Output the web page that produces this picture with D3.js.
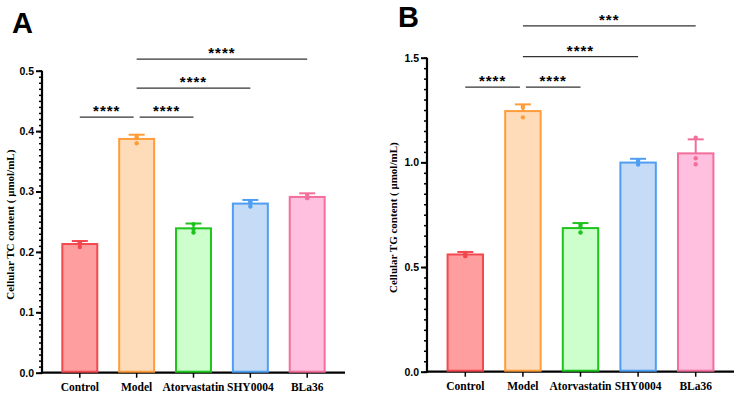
<!DOCTYPE html>
<html>
<head>
<meta charset="utf-8">
<script src="https://cdn.jsdelivr.net/npm/d3@7"></script>
<style>
body { margin: 0; background: #fff; }
svg { display: block; }
.tick text { font-family: "Liberation Sans", Arial, sans-serif; font-weight: bold; font-size: 10.5px; }
</style>
</head>
<body>
<svg id="chart" width="744" height="393"></svg>
<script>
let groups = ["Control", "Model", "Atorvastatin", "SHY0004", "BLa36"];
let fills = ["#ff9e9e", "#ffdcb9", "#ccffcc", "#c6dcf6", "#ffbfdf"];
let strokes = ["#f34850", "#ff9d3c", "#1ec31e", "#4e9ef2", "#f26f9c"];

// panel A: TC
let tcMean = [0.213, 0.387, 0.239, 0.280, 0.291];
let tcSd = [0.005, 0.007, 0.008, 0.006, 0.006];
let tcPoints = [[0.208, 0.214, 0.216], [0.380, 0.389, 0.392], [0.232, 0.238, 0.246], [0.275, 0.281, 0.284], [0.289, 0.290, 0.294]];
let tcTicks = [0, 0.1, 0.2, 0.3, 0.4, 0.5];
// significance: [from, to, level, stars]
let tcSig = [[0, 1, 0.423, "****"], [1, 2, 0.423, "****"], [1, 3, 0.471, "****"], [1, 4, 0.519, "****"]];

// panel B: TG
let tgMean = [0.560, 1.245, 0.686, 0.999, 1.043];
let tgSd = [0.012, 0.032, 0.024, 0.018, 0.067];
let tgPoints = [[0.552, 0.560, 0.567], [1.215, 1.262, 1.270], [0.665, 0.690, 0.702], [0.990, 1.000, 1.008], [0.991, 1.020, 1.118]];
let tgTicks = [0, 0.5, 1.0, 1.5];
let tgSig = [[0, 1, 1.359, "****"], [1, 2, 1.359, "****"], [1, 3, 1.505, "****"], [1, 4, 1.652, "***"]];

let svg = d3.select("#chart");

function panel(opt) {
    let g = svg.append("g");

    let x = d3.scaleBand()
        .domain(groups)
        .range([opt.left, opt.right])
        .paddingInner(0.35)
        .paddingOuter(0.34);

    let y = d3.scaleLinear()
        .domain([0, opt.max])
        .range([opt.bottom, opt.top]);

    // minor ticks
    let minor = d3.range(0, opt.max + opt.minor / 2, opt.minor);
    g.append("g")
        .attr("transform", "translate(" + opt.left + ",0)")
        .call(d3.axisLeft(y).tickValues(minor).tickSize(3).tickFormat(""))
        .call(a => a.select(".domain").remove())
        .selectAll("line").attr("stroke", "#000").attr("stroke-width", 1.5);

    let yAxis = g.append("g")
        .attr("transform", "translate(" + opt.left + ",0)")
        .call(d3.axisLeft(y).tickValues(opt.ticks).tickSize(6).tickPadding(2).tickFormat(d3.format(".1f")));
    yAxis.select(".domain").attr("stroke-width", 2.2).attr("d", "M0," + (opt.bottom + 1) + "V" + opt.top);
    yAxis.selectAll(".tick line").attr("stroke-width", 2);
    yAxis.selectAll(".tick text").attr("fill", "#000");

    let xAxis = g.append("g")
        .attr("transform", "translate(0," + opt.bottom + ")")
        .call(d3.axisBottom(x).tickSize(5).tickPadding(5));
    xAxis.select(".domain").attr("stroke-width", 2.2).attr("d", "M" + (opt.left - 1) + ",0H" + opt.right);
    xAxis.selectAll(".tick line").attr("stroke-width", 1.5);
    xAxis.selectAll(".tick text")
        .style("font-family", "'Liberation Serif', 'Times New Roman', serif")
        .style("font-size", "11.5px")
        .attr("fill", "#000");

    // bars
    g.selectAll(".bar")
        .data(groups)
        .join("rect")
        .attr("x", d => x(d) + 1)
        .attr("width", x.bandwidth() - 2)
        .attr("y", (d, i) => y(opt.mean[i]))
        .attr("height", (d, i) => opt.bottom - 1 - y(opt.mean[i]))
        .attr("fill", (d, i) => fills[i])
        .attr("stroke", (d, i) => strokes[i])
        .attr("stroke-width", 2);

    // error bars (mean + SD)
    groups.forEach(function(d, i) {
        let cx = x(d) + x.bandwidth() / 2;
        g.append("line")
            .attr("x1", cx).attr("x2", cx)
            .attr("y1", y(opt.mean[i])).attr("y2", y(opt.mean[i] + opt.sd[i]))
            .attr("stroke", strokes[i]).attr("stroke-width", 2);
        g.append("line")
            .attr("x1", cx - 8).attr("x2", cx + 8)
            .attr("y1", y(opt.mean[i] + opt.sd[i])).attr("y2", y(opt.mean[i] + opt.sd[i]))
            .attr("stroke", strokes[i]).attr("stroke-width", 2);
        g.selectAll(null)
            .data(opt.points[i])
            .join("circle")
            .attr("cx", cx)
            .attr("cy", v => y(v))
            .attr("r", 2.2)
            .attr("fill", strokes[i]);
    });

    // significance lines
    opt.sig.forEach(function(s) {
        let c0 = x(groups[s[0]]) + x.bandwidth() / 2;
        let c1 = x(groups[s[1]]) + x.bandwidth() / 2;
        let x1 = s[0] === 1 && s[1] === 2 ? c0 + 3 : c0;
        let x2 = s[0] === 0 ? c1 - 3 : c1;
        let ly = y(s[2]);
        g.append("line")
            .attr("x1", x1).attr("x2", x2)
            .attr("y1", ly).attr("y2", ly)
            .attr("stroke", "#333").attr("stroke-width", 1.3);
        g.append("text")
            .attr("x", (x1 + x2) / 2)
            .attr("y", ly - 1)
            .attr("text-anchor", "middle")
            .style("font-family", "'Liberation Sans', Arial, sans-serif")
            .style("font-weight", "bold")
            .style("font-size", "15px")
            .style("letter-spacing", "1px")
            .text(s[3]);
    });

    // y label
    g.append("text")
        .attr("transform", "translate(" + opt.labelX + "," + ((opt.top + opt.bottom) / 2 + 3) + ") rotate(-90)")
        .attr("text-anchor", "middle")
        .style("font-family", "'Liberation Serif', 'Times New Roman', serif")
        .style("font-weight", "bold")
        .style("font-size", "11px")
        .text(opt.ylabel);

    // panel letter
    g.append("text")
        .attr("x", opt.letterX)
        .attr("y", opt.letterY)
        .style("font-family", "'Liberation Sans', Arial, sans-serif")
        .style("font-weight", "bold")
        .style("font-size", "29px")
        .text(opt.letter);
}

panel({
    left: 42, right: 345, top: 70.7, bottom: 372.7, max: 0.5, minor: 0.01,
    ticks: tcTicks, mean: tcMean, sd: tcSd, points: tcPoints, sig: tcSig,
    ylabel: "Cellular TC content ( \u03bcmol/mL)", labelX: 14,
    letter: "A", letterX: 12, letterY: 33
});

panel({
    left: 427, right: 734, top: 57.7, bottom: 371.7, max: 1.5, minor: 0.05,
    ticks: tgTicks, mean: tgMean, sd: tgSd, points: tgPoints, sig: tgSig,
    ylabel: "Cellular TG content ( \u03bcmol/mL)", labelX: 397,
    letter: "B", letterX: 398, letterY: 27
});
</script>
</body>
</html>
